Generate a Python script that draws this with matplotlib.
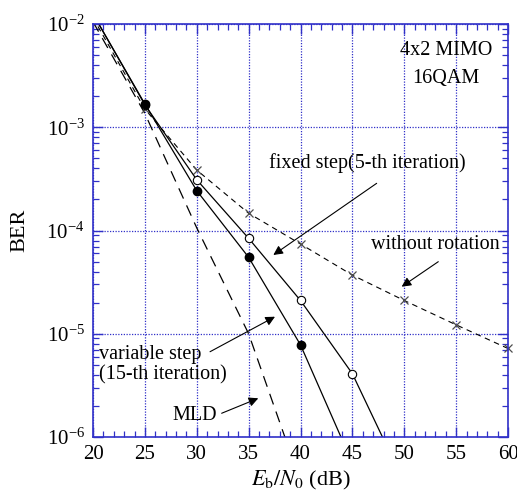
import matplotlib
matplotlib.use("Agg")
import matplotlib.pyplot as plt
from matplotlib.ticker import MultipleLocator, LogLocator, NullFormatter


plt.rcParams['font.family'] = ['Liberation Serif', 'DejaVu Serif']
plt.rcParams['mathtext.fontset'] = 'stix'

BLUE = '#3030c8'

# Eb/N0 (dB)
snr_fixed = [20, 25, 30, 35, 40, 45, 50]
ber_fixed = [1.25e-2, 1.65e-3, 3.1e-4, 8.4e-5, 2.1e-5, 4.1e-6, 3.6e-7]

snr_var = [20, 25, 30, 35, 40, 45]
ber_var = [1.25e-2, 1.68e-3, 2.43e-4, 5.5e-5, 7.8e-6, 5.6e-7]

snr_norot = [20, 25, 30, 35, 40, 45, 50, 55, 60]
ber_norot = [1.15e-2, 1.5e-3, 3.85e-4, 1.47e-4, 7.4e-5, 3.7e-5, 2.1e-5, 1.22e-5, 7.2e-6]

snr_mld = [20, 25, 30, 35, 40]
ber_mld = [1.05e-2, 1.36e-3, 1.06e-4, 1.0e-5, 3.7e-7]

fig = plt.figure(figsize=(5.17, 4.97), dpi=100)
ax = fig.add_axes([0.1799, 0.1207, 0.8027, 0.831])

# 曲线
ax.plot(snr_mld, ber_mld, color='black', lw=0.9, dashes=(9, 6))
ax.plot(snr_norot, ber_norot, color='black', lw=0.8, dashes=(5, 4))
ax.plot(snr_norot[1:], ber_norot[1:], color='0.3', lw=0, marker='x',
        ms=6, mew=0.9, clip_on=False)
ax.plot(snr_fixed, ber_fixed, color='black', lw=0.9, marker='o', ms=6,
        mfc='white', mec='black', mew=0.8)
ax.plot(snr_var, ber_var, color='black', lw=0.9, marker='o', ms=6,
        mfc='black', mec='black')

ax.set_yscale('log')
ax.set_xlim(20, 60)
ax.set_ylim(1e-6, 1e-2)

ax.xaxis.set_major_locator(MultipleLocator(5))
ax.xaxis.set_minor_locator(MultipleLocator(1))
ax.yaxis.set_major_locator(LogLocator(base=10, numticks=10))
ax.yaxis.set_minor_locator(LogLocator(base=10, subs=range(2, 10), numticks=10))
ax.yaxis.set_minor_formatter(NullFormatter())

ax.grid(True, which='major', color=BLUE, ls=(0, (1, 1.2)), lw=0.9)
for s in ax.spines.values():
    s.set_color(BLUE)
    s.set_linewidth(1.2)
ax.tick_params(which='both', direction='in', top=True, right=True,
               color=BLUE, labelsize=15, labelcolor='black', pad=6)
ax.tick_params(which='major', length=7, width=1.0)
ax.tick_params(which='minor', length=4, width=0.9)

ax.set_xlabel(r'$E_{\rm b}/N_{0}$ (dB)', fontsize=16, labelpad=3)
ax.set_ylabel('BER', fontsize=16, labelpad=12)

# 文字说明
fs = 14.5
ax.text(54.0, 10 ** -2.252, '4x2 MIMO', fontsize=fs, ha='center', va='center')
ax.text(54.0, 10 ** -2.523, '16QAM', fontsize=fs, ha='center', va='center')
ax.text(37.0, 10 ** -3.346, 'fixed step(5-th iteration)', fontsize=fs,
        ha='left', va='center')
ax.text(46.8, 10 ** -4.14, 'without rotation', fontsize=fs,
        ha='left', va='center')
ax.text(20.6, 10 ** -5.30, 'variable step\n(15-th iteration)', fontsize=fs,
        ha='left', va='center', linespacing=1.05)
ax.text(31.95, 10 ** -5.787, 'MLD', fontsize=fs, ha='right', va='center')

arr = dict(arrowstyle='-|>', color='black', lw=0.8, mutation_scale=14,
           shrinkA=0, shrinkB=0)
ax.annotate('', xy=(37.38, 10 ** -4.237), xytext=(47.34, 10 ** -3.543),
            arrowprops=arr)
ax.annotate('', xy=(49.75, 10 ** -4.544), xytext=(53.28, 10 ** -4.302),
            arrowprops=arr)
ax.annotate('', xy=(37.54, 10 ** -4.835), xytext=(31.28, 10 ** -5.174),
            arrowprops=arr)
ax.annotate('', xy=(35.93, 10 ** -5.625), xytext=(32.40, 10 ** -5.770),
            arrowprops=arr)

fig.savefig('out.png', dpi=100)
